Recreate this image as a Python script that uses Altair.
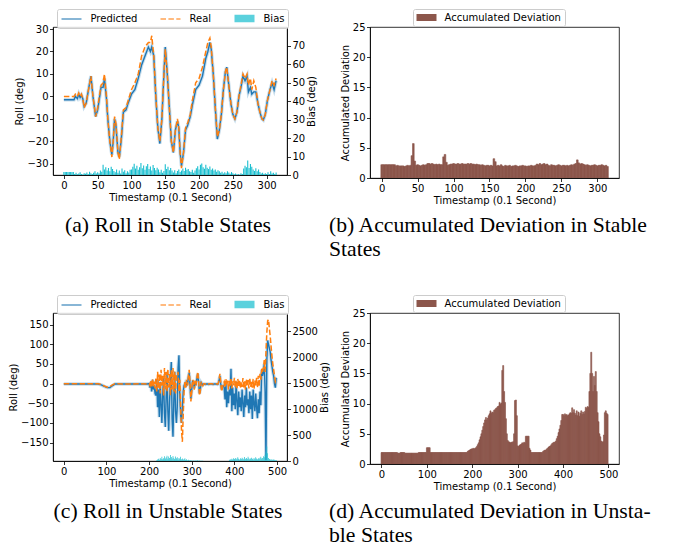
import altair as alt
import pandas as pd

# ---------------- data ----------------
# (a) Roll in stable states: key samples (timestamp, real, predicted)
stable_t = [0, 10, 15, 17, 20, 22, 24, 26, 28, 30, 33, 37, 40, 43, 47, 50, 55, 58, 60, 63,
            65, 68, 71, 73, 75, 77, 80, 82, 85, 88, 92, 95, 100, 105, 110, 115, 120, 125, 128, 130,
            133, 136, 139, 142, 145, 148, 150, 153, 156, 159, 162, 165, 168, 170, 172, 174, 177, 180, 183, 187,
            190, 195, 200, 205, 210, 213, 216, 218, 221, 224, 227, 230, 233, 236, 239, 241, 244, 247, 250, 253,
            256, 259, 262, 265, 268, 271, 273, 276, 278, 281, 284, 287, 290, 293, 295, 298, 301, 305, 308, 311, 314]
stable_real = [0, 0, 0, 1, 0, 1.5, 0, 1, -1, -5, -3, 4, 9, 0, -9, -5, 5, 6, 10, 0,
               -10, -20, -27, -20, -9, -12, -25, -28, -18, -6, -5, -2, 3, 6, 10, 18, 22, 24, 24, 27,
               18, 0, -14, -20, -10, 10, 21, 10, -5, -20, -25, -15, -10, -14, -25, -32, -25, -14, -12, -8,
               -2, 6, 8, 13, 20, 24, 26, 22, 10, -5, -18, -15, -8, 3, 11, 13, 5, -3, -8, -10,
               -7, 0, 5, 10, 8, 10, 5, 8, 3, 7, 4, -3, -7, -10, -10.5, -8, -2, 3, 7, 5, 8]
stable_pred = [-1.5, -1.5, -1.5, 0, -1, 1, -0.5, 0.5, -1, -4.5, -3, 4, 9, 0, -9, -6, 4, 4, 8, -1,
               -10, -20, -26, -20, -10, -13, -25, -27, -19, -7, -6, -3, 1, 3, 8, 14, 18, 22, 20, 22,
               18, 0, -14, -21, -10, 10, 22, 10, -5, -20, -25, -15, -11, -14, -25, -31, -25, -15, -13, -9,
               -4, 3, 5, 9, 17, 20, 24, 21, 10, -5, -19, -15, -8, 3, 11, 13, 5, -3, -8, -10,
               -7, 0, 4, 9, 7, 9, 2, 4, 1, 2, 2, -3, -7, -10, -10.5, -8, -2, 3, 6, 3, 7]
# bias bars, every 2 timestamps from 0 to 314
stable_bias = [1.6, 1.6, 1.6, 1.6, 1.6, 1.6, 1.6, 1.6,
               0.5, 1.2, 0.4, 0.8, 1.5, 0.6, 0.3, 1.0, 0.7, 1.3, 0.5, 1.8, 0.9, 0.6, 1.2, 2.0, 0.8, 1.5, 1.0, 2.5, 1.7,
               5.6, 3.0, 4.2, 2.5, 3.8, 2.0, 4.5, 3.2, 2.2,
               1.5, 3.0, 1.2, 2.4, 0.8, 3.5, 1.8, 2.6, 1.0, 2.0, 1.4, 2.8,
               3.0, 4.5, 6.1, 3.5, 5.0, 2.8, 4.2, 6.5, 3.6, 5.2, 2.9, 4.8, 6.0, 3.3, 4.6, 2.5, 5.4, 3.8, 2.6, 4.0, 3.0,
               1.5, 2.8, 1.2, 2.2,
               5.8, 3.2, 4.5, 2.6, 3.8, 2.4,
               1.4, 2.6, 1.0, 2.2, 3.0, 1.6, 2.4,
               3.5, 2.2, 4.0, 2.8, 3.2, 2.0,
               1.6, 2.8, 1.2, 2.4,
               3.6, 4.8, 3.0, 5.5, 6.3, 4.2, 3.4, 5.6, 4.0, 3.2, 4.6, 2.8, 3.5,
               2.4, 3.0, 1.8, 2.6, 2.0,
               1.2, 1.8, 0.8, 1.5, 1.0, 2.0, 1.3, 0.7, 1.6, 1.0,
               0.4, 0.8, 0.3, 0.6, 0.2, 0.9, 0.5,
               3.5, 5.0, 4.2, 7.9, 3.8, 6.0, 4.5, 3.0,
               2.2, 3.6, 2.0, 3.0, 1.6,
               0.8, 1.2, 0.5, 1.0, 0.6,
               1.5, 0.6, 2.0, 0.8, 1.2, 0.5, 1.4]
# (b) accumulated deviation, every 2 timestamps from 0 to 314
stable_dev = [2.2] * 10 + [2.0, 2.1, 2.0, 2.0, 2.0, 2.0, 1.9, 2.0, 2.1, 2.0, 2.1] + [3.7, 5.7, 2.8] + \
             [2.1, 2.2, 2.1, 2.0, 2.1, 2.2, 2.1, 2.2] + \
             [2.4, 2.4, 2.3, 2.4, 2.3, 2.2, 2.3, 2.2, 2.3, 2.2, 2.2] + [3.5, 3.9, 2.6] + \
             [2.1, 2.2, 2.3, 2.3, 2.4, 2.3, 2.3, 2.4, 2.3, 2.3, 2.4, 2.3, 2.3, 2.3, 2.4, 2.3, 2.4, 2.3, 2.3, 2.2,
              2.3, 2.2, 2.2, 2.1, 2.2] + \
             [2.1, 2.0, 2.1, 2.1, 2.0, 2.1, 2.0] + [3.2, 2.7] + \
             [2.0, 2.1, 2.0, 2.2, 2.0, 1.9, 2.1, 2.0, 2.0, 2.1, 1.9, 2.0, 2.0, 2.1, 2.0, 1.9, 2.0, 2.0, 2.1, 2.0,
              2.0, 1.9, 2.0, 2.0, 2.1, 2.0, 2.0, 2.1] + \
             [2.3, 2.2, 2.4, 2.2, 2.3, 2.4, 2.2, 2.3] + \
             [2.1, 2.0, 2.2, 2.1, 2.1, 2.0, 2.1, 2.2, 2.1, 2.0, 2.1, 2.1, 2.0, 2.1, 2.0, 2.1, 2.2, 2.1, 2.3, 2.4] + \
             [3.0, 2.5] + \
             [2.3, 2.4, 2.3, 2.2, 2.1, 2.2, 2.1, 2.0, 2.1, 2.1, 2.2, 2.1, 2.0, 2.1, 2.1, 2.2, 2.1, 2.0, 2.1, 1.9]

# (c) Roll in unstable states
unstable_t = [0, 20, 40, 60, 80, 88, 95, 102, 108, 114, 120, 140, 160, 180, 196] + list(range(200, 500, 2))
unstable_real = [0, 0, 0, 0, 0, -2, -6, -9, -8, -3, 0, -1, -1, 0, -1] + \
    [0, -5, 8, -10, 12, -8, 5, -12] + \
    [15, -20, 30, -10, 25, -25, 35, -5, 20, -30, 40, -15, 30, -20, 38, -10, 25, -30, 35, -15, 40, -20, 30, -25, 20] + \
    [20, 30, -20, 10, -60, -120, -148, -80, -20] + \
    [5, -10, 10, -5, 20, 35, 0, -45, -20, 10, 5, -15, 8, -5, 15, 30, 10, -30, -20, 5, 0, -5] + \
    [0, 0, -1, 0, 0, 0, -1, 0, 0, 0, 0, -1, 0, 0, 0, 0, -1, 0] + \
    [10, 25, 5, -20, -10, 0] + \
    [5, -10, 12, -5, 8, -15, 10, -8, 14, -12, 6, -4, 15, -10, 8, -14, 12, -6, 10, -12, 5, -8, 14, -10, 6,
     -15, 12, -5, 9, -12, 15, -8, 6, -10, 12, -14, 8, -5, 15, -10, 20, -8, 25, 10, 38, 30] + \
    [40, 60, 30, 80, 130, 160, 163, 140] + \
    [120, 95, 70, 50, 35, 20, 5, 10]
unstable_pred = [-1, -1, -1, -1, -1, -3, -7, -10, -10, -5, -1, -1, -1, -1, -1] + \
    [0, -10, 5, -20, 10, -15, -5, -25] + \
    [-30, 10, -60, -15, -85, 5, -55, -100, -25, 15, -75, -110, -35, 25, -70, -120, -45, 10, 55, -90, -135, -40,
     30, -70, -100] + \
    [-60, 40, 72, -30, -80, -100, -60, -20, -5] + \
    [0, -8, 8, -3, 15, 28, -5, -38, -15, 8, 3, -12, 5, -3, 12, 25, 5, -25, -15, 3, 0, -3] + \
    [-1, -1, -2, -1, -1, -1, -2, -1, -1, -1, -1, -2, -1, -1, -1, -1, -2, -1] + \
    [8, 20, 0, -15, -8, -5] + \
    [-10, -40, 5, -60, -20, -50, -15, -30, 38, -70, -10, -55, -25, -65, 5, -45, -80, -20, -60, -35, -70, -15, -50,
     -85, -30, -60, -10, -55, -40, -75, -20, -65, -30, -90, -15, -50, -70, -25, -60, -88, -40, -75, -20, -55, 35, 20] + \
    [30, 50, -20, -195, 60, 110, 100, 90] + \
    [80, 60, 45, 30, 20, 0, -10, 15]
# bias bars, every 2 timestamps from 0 to 498
unstable_bias = [0] * 109 + \
    [15, 30, 45, 25, 60, 40, 80, 35, 55, 90, 50, 70, 100, 45, 85, 60, 115, 75, 50, 95, 65, 40, 85, 55, 70, 30, 60,
     45, 80, 35, 50, 25, 40, 55, 20, 35, 15, 25, 10, 20, 8, 12] + \
    [6, 10, 5, 12, 4, 8, 15, 6, 10, 4, 7, 3, 5] + [0] * 30 + \
    [20, 35, 25, 45, 30, 55, 40, 60, 35, 50, 70, 45, 30, 55, 40, 65, 50, 35, 75, 45, 60, 40, 80, 55, 35, 50, 65,
     45, 30, 60, 40, 70, 50, 35, 55, 45, 65, 80, 50, 60, 90, 70] + \
    [120, 180, 280, 150, 60] + [40, 30, 25, 35, 20, 30, 25, 15, 20]
# (d) accumulated deviation, every 2 timestamps from 0 to 498
unstable_dev = [1.9] * 18 + [1.8] * 3 + [1.9] * 5 + [1.8] * 15 + [1.9] * 9 + [2.7] * 4 + [1.9] * 41 + \
    [2.1, 2.2, 2.3, 2.4, 2.5] + [2.5, 2.6, 2.5, 2.6, 2.7] + [2.9, 3.2, 3.5] + [4.0, 4.5, 5.0, 5.6] + \
    [6.2, 6.8, 7.3] + [7.7, 7.3, 7.6, 8.0, 8.3] + [8.8, 8.4, 8.6, 8.5, 8.9, 9.0, 9.2, 9.3, 9.5, 9.6] + \
    [10.2, 9.9, 10.1] + [15.5, 16.3, 12.0] + [10.2, 7.5, 5.0, 3.9] + [3.7, 3.6, 3.5, 3.6, 3.6, 3.7] + \
    [5.0, 10.5, 10.6, 8.0, 3.0] + [2.9, 3.1, 3.2, 3.3, 3.5, 3.4, 3.6, 3.5] + [4.6] * 4 + [2.6, 2.3] + \
    [1.9] * 13 + [2.1, 2.2, 2.3, 2.3, 2.5] + [2.6, 2.8, 2.9, 3.0, 3.2] + [3.4, 3.5, 3.6, 3.6, 3.8] + \
    [4.2, 4.6, 5.2, 5.8, 6.4] + [7.2, 8.2, 8.2, 8.0, 8.3, 8.1, 8.2, 8.0, 8.1, 8.3, 8.5, 8.4] + \
    [9.3, 8.5, 9.0, 8.4, 8.1, 8.8, 8.0, 8.6, 7.9, 8.4, 8.8, 8.2, 8.6, 8.3, 8.7, 9.4, 9.2, 9.5, 9.4] + \
    [12.0, 15.0, 18.5] + [15.0, 12.0, 14.5, 13.0, 15.3] + [12.0, 8.5, 7.0, 5.0] + [4.5, 3.8, 3.6, 3.7] + \
    [4.8, 8.5, 8.8, 8.4, 8.2]

series_names = ["Predicted", "Real", "Bias"]
dev_name = "Accumulated Deviation"
x_title = "Timestamp (0.1 Second)"
cap_a = "(a) Roll in Stable States"
cap_b = ["(b) Accumulated Deviation in Stable", "States"]
cap_c = "(c) Roll in Unstable States"
cap_d = ["(d) Accumulated Deviation in Unsta-", "ble States"]

# ---------------- styling ----------------
BLUE, ORANGE, CYAN, BROWN = "#1f77b4", "#ff7f0e", "#17becf", "#8c564b"
LINE_PATH = "M-1,0L3,0"
BAND_PATH = "M-1,-0.6L3,-0.6M-1,-0.3L3,-0.3M-1,0L3,0M-1,0.3L3,0.3M-1,0.6L3,0.6"
RECT_PATH = "M-1,-0.7L3,-0.7L3,0.7L-1,0.7Z"
SERIF = "Liberation Serif"


def legend_box(lx, **kw):
    return alt.Legend(title=None, orient="none", legendX=lx, legendY=-18, direction="horizontal",
                      symbolSize=100, labelOffset=18, columnPadding=20, padding=3.5,
                      strokeColor="#cccccc", fillColor="rgba(255,255,255,0.8)", cornerRadius=2, **kw)


def caption(text, anchor, dx, offset):
    return alt.TitleParams(text=text, orient="bottom", anchor=anchor, frame="group", dx=dx, offset=offset,
                           font=SERIF, fontSize=21.7, fontWeight="normal", color="black", lineHeight=24)


def roll_panel(t, real, pred, bias, step_max, xdom, xvals, ydom, yvals, bdom, bvals, cap, w, h):
    n = len(t)
    lines_df = pd.DataFrame({"t": t + t, "value": pred + real,
                             "series": ["Predicted"] * n + ["Real"] * n})
    pred_df = pd.DataFrame({"t": t, "value": pred})
    real_df = pd.DataFrame({"t": t, "value": real})
    bias_df = pd.DataFrame({"t": list(range(0, step_max, 2)), "bias": bias})

    def X(field):
        return alt.X(field, scale=alt.Scale(domain=xdom, nice=False, zero=False),
                     axis=alt.Axis(values=xvals, title=x_title))

    def Y():
        return alt.Y("value:Q", scale=alt.Scale(domain=ydom, nice=False, zero=False),
                     axis=alt.Axis(values=yvals, title="Roll (deg)", orient="left"))

    leg = legend_box(4, symbolStrokeWidth=1.5)
    legend_layer = alt.Chart(lines_df).transform_filter("false").mark_point(
        filled=False, size=100, strokeWidth=1.5).encode(
        x=X("t:Q"), y=Y(),
        color=alt.Color("series:N", scale=alt.Scale(domain=series_names, range=[BLUE, ORANGE, CYAN]), legend=leg),
        shape=alt.Shape("series:N", scale=alt.Scale(domain=series_names, range=[LINE_PATH, LINE_PATH, BAND_PATH]),
                        legend=leg),
        strokeDash=alt.StrokeDash("series:N", scale=alt.Scale(domain=series_names,
                                                               range=[[1, 0], [5.5, 2.4], [1, 0]]), legend=leg),
    )
    halo = alt.Chart(pred_df).mark_line(color=BLUE, opacity=0.25, strokeWidth=3.5, clip=True).encode(
        x=X("t:Q"), y=Y())
    pline = alt.Chart(pred_df).mark_line(color=BLUE, strokeWidth=1.4, clip=True).encode(x=X("t:Q"), y=Y())
    rline = alt.Chart(real_df).mark_line(color=ORANGE, strokeWidth=1.5, strokeDash=[5.5, 2.4], clip=True).encode(
        x=X("t:Q"), y=Y())
    bars = alt.Chart(bias_df).transform_calculate(x0="datum.t - 0.8", x1="datum.t + 0.8").mark_bar(
        color=CYAN, clip=True).encode(
        x=X("x0:Q"), x2="x1:Q",
        y=alt.Y("bias:Q", stack=None, scale=alt.Scale(domain=bdom, nice=False, zero=False),
                axis=alt.Axis(values=bvals, title="Bias (deg)", orient="right", titleAngle=270,
                              titleBaseline="top", format="d")),
        y2=alt.datum(0),
    )
    left = alt.layer(legend_layer, halo, pline, rline)
    return alt.layer(left, bars).resolve_scale(y="independent").properties(
        width=w, height=h, title=cap)


def dev_panel(dev, step_max, xdom, xvals, cap, w, h):
    df = pd.DataFrame({"t": list(range(0, step_max, 2)), "dev": dev, "series": dev_name})
    return alt.Chart(df).transform_calculate(x0="datum.t - 1", x1="datum.t + 1.3").mark_bar(
        clip=True, stroke=BROWN, strokeWidth=0.6).encode(
        x=alt.X("x0:Q", scale=alt.Scale(domain=xdom, nice=False, zero=False),
                axis=alt.Axis(values=xvals, title=x_title)),
        x2="x1:Q",
        y=alt.Y("dev:Q", stack=None, scale=alt.Scale(domain=[0, 25], nice=False),
                axis=alt.Axis(values=[0, 5, 10, 15, 20, 25], title="Accumulated Deviation")),
        y2=alt.datum(0),
        color=alt.Color("series:N", scale=alt.Scale(domain=[dev_name], range=[BROWN]),
                        legend=legend_box(43, symbolType=RECT_PATH, symbolStrokeWidth=0)),
    ).properties(width=w, height=h, title=cap)


A = roll_panel(stable_t, stable_real, stable_pred, stable_bias, 316, [-16.1, 330.1],
               [0, 50, 100, 150, 200, 250, 300], [-35, 30.9], [-30, -20, -10, 0, 10, 20, 30],
               [0, 80.3], [0, 10, 20, 30, 40, 50, 60, 70], caption(cap_a, "middle", -2, 13), 234, 148)
B = dev_panel(stable_dev, 316, [-16.1, 330.1], [0, 50, 100, 150, 200, 250, 300],
              caption(cap_b, "start", -41, 10), 249, 151)
C = roll_panel(unstable_t, unstable_real, unstable_pred, unstable_bias, 500, [-25.3, 523.3],
               [0, 100, 200, 300, 400, 500], [-196.7, 179.7], [-150, -100, -50, 0, 50, 100, 150],
               [0, 2853], [0, 500, 1000, 1500, 2000, 2500], caption(cap_c, "middle", -2, 13), 234, 148)
D = dev_panel(unstable_dev, 500, [-25.3, 523.3], [0, 100, 200, 300, 400, 500],
              caption(cap_d, "start", -41, 10), 249, 151)

chart = alt.concat(A, B, C, D, columns=2, spacing={"row": 135, "column": 83}, bounds="flush").resolve_scale(
    color="independent", shape="independent", strokeDash="independent"
).resolve_legend(
    color="independent", shape="independent", strokeDash="independent"
).properties(
    padding={"left": 0, "top": 0, "right": 0, "bottom": 0}
).configure_axis(
    labelFont="DejaVu Sans", labelFontSize=10, labelColor="black",
    titleFont="DejaVu Sans", titleFontSize=10, titleFontWeight="normal", titleColor="black",
    tickColor="black", tickSize=3.5, tickWidth=0.8, domainColor="black", domainWidth=0.8,
    labelPadding=1.5, titlePadding=2, grid=False, labelFlush=False, labelOverlap=False,
).configure_view(
    stroke="black", strokeWidth=0.8
).configure_legend(
    labelFont="DejaVu Sans", labelFontSize=10, labelColor="black"
)

chart.save("out.html", embed_options={"renderer": "svg", "actions": False})
